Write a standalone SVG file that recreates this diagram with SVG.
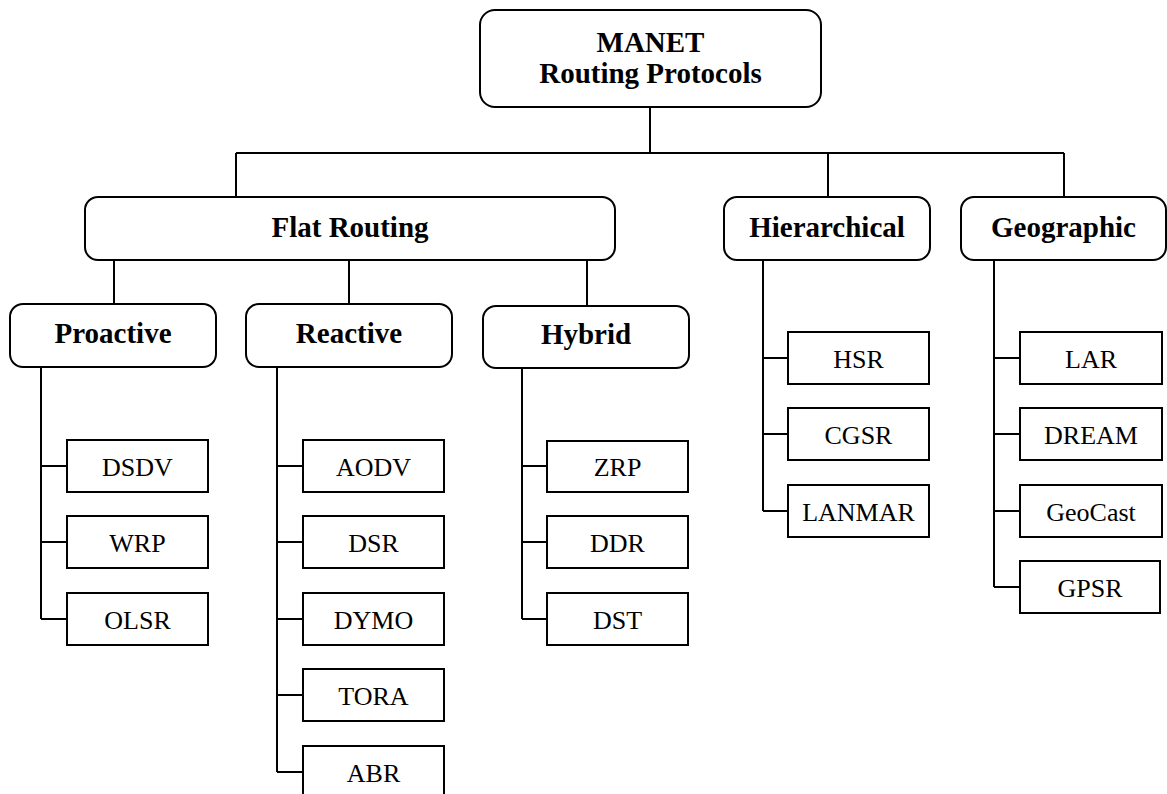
<svg xmlns="http://www.w3.org/2000/svg" width="1167" height="794" viewBox="0 0 1167 794">
  <style>
    .grp { fill: #fff; stroke: #000; stroke-width: 2; }
    .leaf { fill: #fff; stroke: #000; stroke-width: 2; }
    .hd { font-family: "Liberation Serif", "Times New Roman", serif; font-weight: bold; font-size: 29px; text-anchor: middle; fill: #000; }
    .lf { font-family: "Liberation Serif", "Times New Roman", serif; font-size: 26px; text-anchor: middle; fill: #000; }
    .wire { fill: none; stroke: #000; stroke-width: 2; }
  </style>
  <rect width="1167" height="794" fill="#fff"/>

  <!-- connectors -->
  <g id="connectors" class="wire">
    <!-- root to bus -->
    <path d="M650 107 V153 M236 153 H1064 M236 153 V197 M828 153 V197 M1064 153 V197"/>
    <!-- flat routing to its three branches -->
    <path d="M114 260 V304 M349 260 V304 M587 260 V306"/>
    <!-- proactive -->
    <path d="M41 367 V619 M41 466 H67 M41 542 H67 M41 619 H67"/>
    <!-- reactive -->
    <path d="M277 367 V772 M277 466 H303 M277 542 H303 M277 619 H303 M277 695 H303 M277 772 H303"/>
    <!-- hybrid -->
    <path d="M522 368 V619 M522 466 H547 M522 542 H547 M522 619 H547"/>
    <!-- hierarchical -->
    <path d="M763 260 V511 M763 358 H788 M763 434 H788 M763 511 H788"/>
    <!-- geographic -->
    <path d="M994 260 V587 M994 358 H1020 M994 434 H1020 M994 511 H1020 M994 587 H1020"/>
  </g>

  <!-- root -->
  <g id="root">
    <rect class="grp" x="480" y="10" width="341" height="97" rx="15"/>
    <text class="hd" x="650.5" y="52">MANET</text>
    <text class="hd" x="650.5" y="83">Routing Protocols</text>
  </g>

  <!-- second level -->
  <g id="flat">
    <rect class="grp" x="85" y="197" width="530" height="63" rx="13"/>
    <text class="hd" x="350" y="237">Flat Routing</text>
  </g>
  <g id="hierarchical">
    <rect class="grp" x="724" y="197" width="206" height="63" rx="13"/>
    <text class="hd" x="827" y="237">Hierarchical</text>
  </g>
  <g id="geographic">
    <rect class="grp" x="961" y="197" width="205" height="63" rx="13"/>
    <text class="hd" x="1063.5" y="237">Geographic</text>
  </g>

  <!-- third level -->
  <g id="proactive">
    <rect class="grp" x="10" y="304" width="206" height="63" rx="13"/>
    <text class="hd" x="113" y="343">Proactive</text>
  </g>
  <g id="reactive">
    <rect class="grp" x="246" y="304" width="206" height="63" rx="13"/>
    <text class="hd" x="349" y="343">Reactive</text>
  </g>
  <g id="hybrid">
    <rect class="grp" x="483" y="306" width="206" height="62" rx="13"/>
    <text class="hd" x="586" y="344">Hybrid</text>
  </g>

  <!-- proactive protocols -->
  <g id="dsdv"><rect class="leaf" x="67" y="440" width="141" height="52"/><text class="lf" x="137.5" y="476">DSDV</text></g>
  <g id="wrp"><rect class="leaf" x="67" y="516" width="141" height="52"/><text class="lf" x="137.5" y="552">WRP</text></g>
  <g id="olsr"><rect class="leaf" x="67" y="593" width="141" height="52"/><text class="lf" x="137.5" y="629">OLSR</text></g>

  <!-- reactive protocols -->
  <g id="aodv"><rect class="leaf" x="303" y="440" width="141" height="52"/><text class="lf" x="373.5" y="476">AODV</text></g>
  <g id="dsr"><rect class="leaf" x="303" y="516" width="141" height="52"/><text class="lf" x="373.5" y="552">DSR</text></g>
  <g id="dymo"><rect class="leaf" x="303" y="593" width="141" height="52"/><text class="lf" x="373.5" y="629">DYMO</text></g>
  <g id="tora"><rect class="leaf" x="303" y="669" width="141" height="52"/><text class="lf" x="373.5" y="705">TORA</text></g>
  <g id="abr"><rect class="leaf" x="303" y="746" width="141" height="52"/><text class="lf" x="373.5" y="782">ABR</text></g>

  <!-- hybrid protocols -->
  <g id="zrp"><rect class="leaf" x="547" y="441" width="141" height="51"/><text class="lf" x="617.5" y="476">ZRP</text></g>
  <g id="ddr"><rect class="leaf" x="547" y="516" width="141" height="52"/><text class="lf" x="617.5" y="552">DDR</text></g>
  <g id="dst"><rect class="leaf" x="547" y="593" width="141" height="52"/><text class="lf" x="617.5" y="629">DST</text></g>

  <!-- hierarchical protocols -->
  <g id="hsr"><rect class="leaf" x="788" y="332" width="141" height="52"/><text class="lf" x="858.5" y="368">HSR</text></g>
  <g id="cgsr"><rect class="leaf" x="788" y="408" width="141" height="52"/><text class="lf" x="858.5" y="444">CGSR</text></g>
  <g id="lanmar"><rect class="leaf" x="788" y="485" width="141" height="52"/><text class="lf" x="858.5" y="521">LANMAR</text></g>

  <!-- geographic protocols -->
  <g id="lar"><rect class="leaf" x="1020" y="332" width="142" height="52"/><text class="lf" x="1091" y="368">LAR</text></g>
  <g id="dream"><rect class="leaf" x="1020" y="408" width="142" height="52"/><text class="lf" x="1091" y="444">DREAM</text></g>
  <g id="geocast"><rect class="leaf" x="1020" y="485" width="142" height="52"/><text class="lf" x="1091" y="521">GeoCast</text></g>
  <g id="gpsr"><rect class="leaf" x="1020" y="561" width="140" height="52"/><text class="lf" x="1090" y="597">GPSR</text></g>
</svg>
